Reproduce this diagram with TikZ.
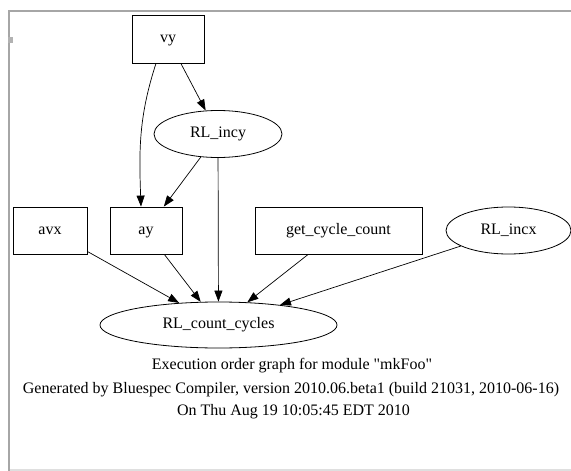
\documentclass[tikz,border=0pt]{standalone}
\usepackage{fontspec}
\setmainfont{Liberation Serif}[Ligatures=TeXOff]
\usetikzlibrary{arrows.meta,shapes.geometric}
\begin{document}
\begin{tikzpicture}[x=1pt,y=-1pt,
  every node/.style={font=\fontsize{16}{19}\selectfont, inner sep=0pt, text height=11pt, text depth=3.5pt},
  boxnode/.style={draw, line width=0.8pt, rectangle},
  ellnode/.style={draw, line width=0.8pt, ellipse},
  arr/.style={line width=0.7pt, -{Triangle[length=11pt,width=8pt]}},
  frame/.style={draw=gray!70, line width=2pt}]
\useasboundingbox (0,0) rectangle (571,471);
% frame
\draw[frame] (9,471) -- (9,11) -- (571,11);
\draw[draw=gray!25, line width=1.5pt] (10,470) -- (571,470);
\fill[gray!60] (8,37) rectangle (13,43);
% nodes
\node[boxnode, minimum width=72pt, minimum height=48pt] (vy) at (168,39) {vy};
\node[ellnode, minimum width=128pt, minimum height=47pt] (incy) at (218,134) {RL\_incy};
\node[boxnode, minimum width=74pt, minimum height=47pt] (avx) at (50,230.5) {avx};
\node[boxnode, minimum width=72pt, minimum height=47pt] (ay) at (146,230.5) {ay};
\node[boxnode, minimum width=167pt, minimum height=47pt] (gcc) at (338.5,230.5) {get\_cycle\_count};
\node[ellnode, minimum width=125pt, minimum height=47pt] (incx) at (508.5,230.5) {RL\_incx};
\node[ellnode, minimum width=237pt, minimum height=46pt] (rcc) at (218.5,325) {RL\_count\_cycles};
% edges
\draw[arr] ([xshift=-12pt]vy.south) to[out=-108,in=92] ([xshift=-5pt]ay.north);
\draw[arr] (vy) -- (incy);
\draw[arr] (incy) -- (ay);
\draw[arr] (incy) -- (rcc);
\draw[arr] (avx) -- (rcc);
\draw[arr] (ay) -- (rcc);
\draw[arr] (gcc) -- (rcc);
\draw[arr] (incx) -- (rcc);
% labels
\node (l1) at (292,366) {Execution order graph for module "mkFoo"};
\node (l2) at (291,389.5) {Generated by Bluespec Compiler, version 2010.06.beta1 (build 21031, 2010-06-16)};
\node (l3) at (293.5,412) {On Thu Aug 19 10:05:45 EDT 2010};
\end{tikzpicture}
\end{document}
